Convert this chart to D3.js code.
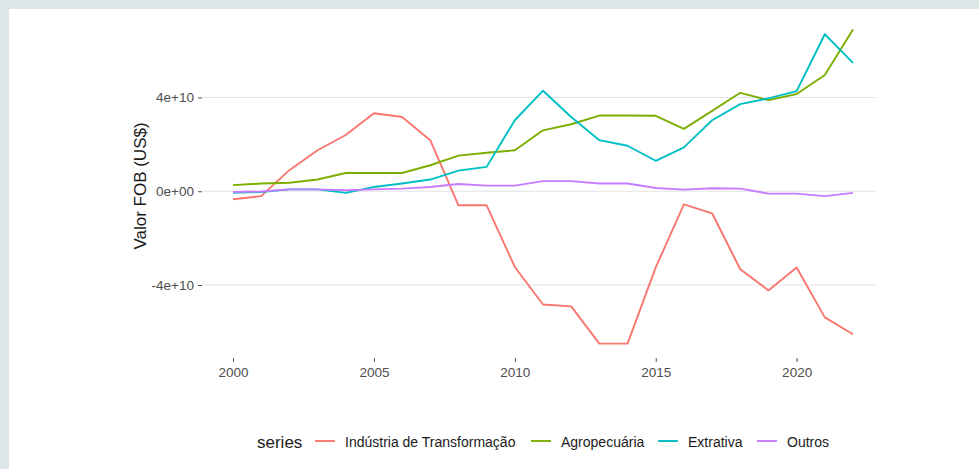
<!DOCTYPE html>
<html>
<head>
<meta charset="utf-8">
<script src="https://cdn.jsdelivr.net/npm/d3@7"></script>
<style>
  html, body { margin: 0; padding: 0; background: #dde7ea; }
  #chart { position: absolute; left: 9px; top: 9px; width: 970px; height: 460px; background: #fff; }
  text { font-family: "Liberation Sans", Arial, sans-serif; }
</style>
</head>
<body>
<div id="chart"></div>
<script>
const WIDTH = 979;
const HEIGHT = 469;

// anos
const years = [2000, 2001, 2002, 2003, 2004, 2005, 2006, 2007, 2008, 2009, 2010,
    2011, 2012, 2013, 2014, 2015, 2016, 2017, 2018, 2019, 2020, 2021, 2022];

// saldo em bilhoes de US$
const industria = [-3.4, -2.1, 9, 17.5, 24, 33.3, 31.7, 21.8, -6, -6, -32.3,
    -48.3, -49.1, -65, -65, -32.5, -5.6, -9.4, -33.3, -42.3, -32.5, -53.8, -61];
const agro = [2.6, 3.3, 3.6, 5, 7.8, 7.8, 7.8, 11.1, 15.2, 16.4, 17.5,
    26, 28.6, 32.3, 32.3, 32.2, 26.6, 34.3, 42, 38.9, 41.5, 49.6, 69];
const extrativa = [-0.7, -0.3, 0.8, 0.8, -0.7, 1.8, 3.3, 5, 8.8, 10.4, 30.3,
    42.9, 31.7, 21.8, 19.4, 13, 18.7, 30.3, 37.2, 39.6, 42.7, 67, 54.8];
const outros = [-0.3, -0.1, 0.8, 0.8, 0.4, 0.8, 1.1, 1.8, 3.1, 2.4, 2.4,
    4.3, 4.3, 3.3, 3.3, 1.4, 0.7, 1.3, 1.1, -1, -1, -2.1, -0.7];

const seriesNames = ["Indústria de Transformação", "Agropecuária", "Extrativa", "Outros"];
const seriesColors = ["#F8766D", "#7CAE00", "#00BFC4", "#C77CFF"];

const xTicks = [2000, 2005, 2010, 2015, 2020];
const yTicks = [-4e10, 0, 4e10];
const yTickLabels = ["-4e+10", "0e+00", "4e+10"];

const series = [industria, agro, extrativa, outros].map((vals, i) => ({
    name: seriesNames[i],
    color: seriesColors[i],
    values: vals.map((v, j) => ({ year: years[j], value: v * 1e9 }))
}));

const svg = d3.select("body")
    .append("svg")
    .attr("width", WIDTH)
    .attr("height", HEIGHT)
    .style("position", "absolute")
    .style("left", 0)
    .style("top", 0);

// painel
const panel = { left: 202, right: 876, top: 13, bottom: 358 };

const x = d3.scaleLinear()
    .domain([2000, 2022])
    .range([233, 853]);

const y = d3.scaleLinear()
    .domain([-4e10, 4e10])
    .range([285, 97.5]);

// grid horizontal
svg.append("g")
    .selectAll("line")
    .data(yTicks)
    .join("line")
    .attr("x1", panel.left)
    .attr("x2", panel.right)
    .attr("y1", d => y(d))
    .attr("y2", d => y(d))
    .attr("stroke", "#e3e3e3")
    .attr("stroke-width", 1.2);

// eixo y
const yAxis = svg.append("g")
    .attr("transform", `translate(${panel.left},0)`)
    .call(d3.axisLeft(y).tickValues(yTicks).tickSize(4).tickPadding(4)
        .tickFormat((d, i) => yTickLabels[i]));
yAxis.select(".domain").remove();
yAxis.selectAll(".tick line").attr("stroke", "#555");
yAxis.selectAll("text")
    .attr("fill", "#4d4d4d")
    .style("font-size", "13.5px");

// eixo x
const xAxis = svg.append("g")
    .attr("transform", `translate(0,${panel.bottom})`)
    .call(d3.axisBottom(x).tickValues(xTicks).tickSize(4).tickPadding(5)
        .tickFormat(d3.format("d")));
xAxis.select(".domain").remove();
xAxis.selectAll(".tick line").attr("stroke", "#555");
xAxis.selectAll("text")
    .attr("fill", "#4d4d4d")
    .style("font-size", "13.5px");

// titulo eixo y
svg.append("text")
    .attr("transform", `translate(146,186) rotate(-90)`)
    .attr("text-anchor", "middle")
    .attr("fill", "#1a1a1a")
    .style("font-size", "17px")
    .text("Valor FOB (US$)");

// linhas
const line = d3.line()
    .x(d => x(d.year))
    .y(d => y(d.value));

svg.append("g")
    .selectAll("path")
    .data(series)
    .join("path")
    .attr("d", d => line(d.values))
    .attr("fill", "none")
    .attr("stroke", d => d.color)
    .attr("stroke-width", 1.9)
    .attr("stroke-linejoin", "round");

// legenda
const legend = svg.append("g");

legend.append("text")
    .attr("x", 257)
    .attr("y", 448)
    .attr("fill", "#1a1a1a")
    .style("font-size", "17px")
    .text("series");

const keyX = [315, 531, 658, 757];

const items = legend.selectAll("g.item")
    .data(series)
    .join("g")
    .attr("class", "item")
    .attr("transform", (d, i) => `translate(${keyX[i]},0)`);

items.append("line")
    .attr("x1", 0)
    .attr("x2", 20)
    .attr("y1", 441)
    .attr("y2", 441)
    .attr("stroke", d => d.color)
    .attr("stroke-width", 1.9);

items.append("text")
    .attr("x", 30)
    .attr("y", 447)
    .attr("fill", "#1a1a1a")
    .style("font-size", "14px")
    .text(d => d.name);
</script>
</body>
</html>
